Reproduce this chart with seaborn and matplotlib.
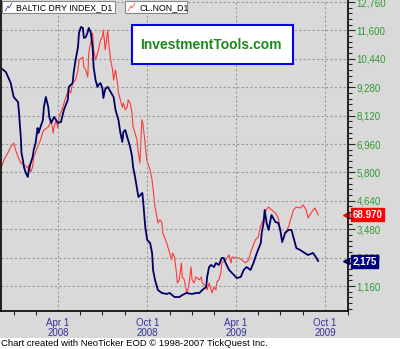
import pandas as pd
import numpy as np
import seaborn as sns
import matplotlib.pyplot as plt
import matplotlib.dates as mdates
import matplotlib.transforms as mtransforms
from matplotlib.ticker import FixedLocator, FuncFormatter, MultipleLocator
from matplotlib.patches import Rectangle
from matplotlib.lines import Line2D

# Baltic Dry Index
bdi_dates = [
    '2007-12-06', '2007-12-16', '2007-12-26', '2008-01-01', '2008-01-10', '2008-01-12', '2008-01-14',
    '2008-01-16', '2008-01-17', '2008-01-20', '2008-01-22', '2008-01-26', '2008-01-30', '2008-02-01',
    '2008-02-05', '2008-02-09', '2008-02-11', '2008-02-15', '2008-02-19', '2008-02-21', '2008-02-25',
    '2008-03-01', '2008-03-03', '2008-03-07', '2008-03-12', '2008-03-14', '2008-03-18', '2008-03-24',
    '2008-04-01', '2008-04-07', '2008-04-13', '2008-04-21', '2008-04-23', '2008-05-01', '2008-05-03',
    '2008-05-07', '2008-05-12', '2008-05-14', '2008-05-18', '2008-05-22', '2008-05-24', '2008-05-28',
    '2008-06-01', '2008-06-03', '2008-06-07', '2008-06-11', '2008-06-13', '2008-06-17', '2008-06-21',
    '2008-06-23', '2008-06-27', '2008-07-01', '2008-07-03', '2008-07-07', '2008-07-12', '2008-07-18',
    '2008-07-24', '2008-07-28', '2008-08-03', '2008-08-07', '2008-08-11', '2008-08-13', '2008-08-17',
    '2008-08-21', '2008-08-27', '2008-08-31', '2008-09-02', '2008-09-06', '2008-09-13', '2008-09-21',
    '2008-09-23', '2008-09-27', '2008-10-01', '2008-10-07', '2008-10-11', '2008-10-13', '2008-10-17',
    '2008-10-23', '2008-10-31', '2008-11-10', '2008-11-16', '2008-11-26', '2008-12-06', '2008-12-12',
    '2008-12-20', '2009-01-01', '2009-01-09', '2009-01-16', '2009-01-22', '2009-01-30', '2009-02-01',
    '2009-02-05', '2009-02-09', '2009-02-15', '2009-02-19', '2009-02-25', '2009-03-03', '2009-03-07',
    '2009-03-11', '2009-03-18', '2009-03-28', '2009-04-03', '2009-04-11', '2009-04-17', '2009-04-23',
    '2009-05-01', '2009-05-07', '2009-05-14', '2009-05-22', '2009-05-24', '2009-05-28', '2009-05-30',
    '2009-06-03', '2009-06-07', '2009-06-11', '2009-06-13', '2009-06-21', '2009-06-27', '2009-07-01',
    '2009-07-05', '2009-07-11', '2009-07-18', '2009-07-24', '2009-07-28', '2009-08-03', '2009-08-11',
    '2009-08-17', '2009-08-27', '2009-09-06', '2009-09-12', '2009-09-17',
]
bdi_values = [
    10065, 9900, 9450, 8880, 8675, 8225, 7655,
    7125, 6590, 6305, 6020, 5775, 5615, 5900,
    6185, 6430, 6715, 7000, 7615, 7410, 7655,
    7940, 8470, 8880, 8470, 8065, 7820, 8065,
    7820, 7860, 8350, 8760, 9290, 9450, 9860,
    10390, 10925, 11495, 11740, 11700, 11290, 11330,
    11535, 11700, 11535, 10925, 10105, 9575, 9290,
    9370, 9450, 9250, 8840, 9210, 9290, 9085,
    8880, 8350, 7940, 7410, 7045, 7450, 7530,
    7245, 6840, 6430, 6020, 5615, 4795, 4960,
    4550, 3570, 3040, 2915, 2510, 1815, 1405,
    995, 875, 835, 875, 710, 710, 790,
    875, 835, 875, 875, 995, 1120, 1530,
    1935, 2020, 1935, 2100, 2020, 2305, 2305,
    2100, 1815, 1610, 1485, 1530, 1815, 1935,
    1815, 2100, 2510, 2915, 3325, 3775, 4265,
    3735, 3450, 3855, 4060, 3775, 3735, 3450,
    2955, 3325, 3450, 3450, 3160, 2710, 2630,
    2550, 2425, 2510, 2345, 2175,
]

# crude oil CL.NON (own hidden scale)
oil_dates = [
    '2007-12-06', '2007-12-10', '2007-12-12', '2007-12-20', '2007-12-26', '2008-01-01', '2008-01-05',
    '2008-01-10', '2008-01-16', '2008-01-22', '2008-01-30', '2008-02-01', '2008-02-05', '2008-02-09',
    '2008-02-11', '2008-02-19', '2008-02-25', '2008-03-01', '2008-03-03', '2008-03-12', '2008-03-18',
    '2008-03-22', '2008-03-24', '2008-03-28', '2008-04-01', '2008-04-03', '2008-04-11', '2008-04-17',
    '2008-04-23', '2008-04-27', '2008-05-01', '2008-05-07', '2008-05-12', '2008-05-14', '2008-05-22',
    '2008-05-24', '2008-05-28', '2008-06-01', '2008-06-03', '2008-06-07', '2008-06-11', '2008-06-13',
    '2008-06-17', '2008-06-21', '2008-06-23', '2008-06-27', '2008-07-01', '2008-07-03', '2008-07-07',
    '2008-07-12', '2008-07-14', '2008-07-18', '2008-07-22', '2008-07-24', '2008-07-28', '2008-08-01',
    '2008-08-03', '2008-08-07', '2008-08-11', '2008-08-13', '2008-08-17', '2008-08-21', '2008-08-23',
    '2008-08-27', '2008-08-31', '2008-09-02', '2008-09-06', '2008-09-10', '2008-09-12', '2008-09-16',
    '2008-09-20', '2008-09-22', '2008-09-26', '2008-09-30', '2008-10-07', '2008-10-11', '2008-10-17',
    '2008-10-21', '2008-10-23', '2008-10-27', '2008-10-31', '2008-11-02', '2008-11-10', '2008-11-16',
    '2008-11-20', '2008-11-22', '2008-11-26', '2008-11-30', '2008-12-02', '2008-12-06', '2008-12-10',
    '2008-12-12', '2008-12-16', '2008-12-20', '2008-12-22', '2008-12-26', '2008-12-30', '2009-01-01',
    '2009-01-05', '2009-01-09', '2009-01-16', '2009-01-20', '2009-01-22', '2009-01-30', '2009-02-01',
    '2009-02-05', '2009-02-09', '2009-02-11', '2009-02-15', '2009-02-19', '2009-02-21', '2009-02-25',
    '2009-03-01', '2009-03-03', '2009-03-11', '2009-03-18', '2009-03-22', '2009-03-24', '2009-04-01',
    '2009-04-07', '2009-04-13', '2009-04-21', '2009-04-27', '2009-05-03', '2009-05-11', '2009-05-17',
    '2009-05-21', '2009-05-27', '2009-06-02', '2009-06-07', '2009-06-13', '2009-06-21', '2009-06-27',
    '2009-07-03', '2009-07-07', '2009-07-11', '2009-07-18', '2009-07-22', '2009-07-24', '2009-07-28',
    '2009-08-03', '2009-08-11', '2009-08-17', '2009-08-23', '2009-08-27', '2009-09-02', '2009-09-10',
    '2009-09-17',
]
oil_values = [
    88.7, 90.8, 92.1, 95.0, 97.5, 99.2, 96.3,
    93.3, 90.8, 90.0, 88.7, 90.0, 87.0, 89.1,
    93.3, 97.5, 100.5, 103.8, 104.7, 105.9, 108.9,
    103.4, 105.9, 108.9, 105.5, 110.1, 114.3, 118.5,
    121.5, 120.2, 124.4, 125.7, 129.9, 134.1, 135.3,
    131.1, 129.9, 126.9, 137.0, 141.2, 145.4, 138.3,
    134.1, 137.0, 138.3, 142.5, 143.7, 146.7, 138.3,
    146.7, 141.2, 134.1, 129.9, 125.7, 129.9, 124.4,
    120.2, 117.3, 114.3, 116.0, 113.1, 114.3, 117.3,
    116.0, 111.8, 105.9, 103.4, 100.5, 96.3, 90.8,
    108.9, 107.6, 100.5, 92.1, 87.9, 83.7, 72.3,
    68.1, 65.6, 66.9, 66.0, 61.4, 57.2, 53.0,
    50.1, 53.0, 51.3, 44.6, 40.4, 41.7, 48.8,
    42.9, 41.7, 37.5, 36.2, 40.4, 47.1, 41.7,
    40.4, 42.9, 41.7, 42.9, 40.4, 38.7, 37.5,
    40.4, 37.5, 36.2, 38.7, 37.5, 40.8, 41.7,
    44.6, 48.8, 50.1, 52.2, 48.8, 51.3, 50.9,
    50.9, 50.1, 48.8, 50.1, 54.3, 58.5, 59.7,
    63.9, 66.9, 71.1, 72.3, 71.1, 69.8, 67.7,
    59.7, 58.5, 61.8, 63.9, 66.9, 68.1, 71.1,
    72.3, 71.9, 73.2, 71.1, 67.7, 69.8, 71.9,
    68.97,
]

bdi_ticks = [1160, 2320, 3480, 4640, 5800, 6960, 8120, 9280, 10440, 11600, 12760]
x_major = ['2008-04-01', '2008-10-01', '2009-04-01', '2009-10-01']
x_labels = ['Apr 1\n2008', 'Oct 1\n2008', 'Apr 1\n2009', 'Oct 1\n2009']
x_minor = ['2008-01-01', '2008-02-15', '2008-05-16', '2008-07-01', '2008-08-16', '2008-11-16',
           '2009-01-01', '2009-02-15', '2009-05-16', '2009-07-01', '2009-08-16', '2009-11-16']

BG = '#d9d9d9'
NAVY = '#000066'
RED = '#ff3838'
GREEN = '#339933'
W, H = 400, 349

sns.set_style('white')
plt.rcParams['font.family'] = ['Liberation Sans', 'DejaVu Sans']

bdi = pd.DataFrame({'date': pd.to_datetime(bdi_dates), 'value': bdi_values})
oil = pd.DataFrame({'date': pd.to_datetime(oil_dates), 'value': oil_values})

fig = plt.figure(figsize=(W / 100, H / 100), dpi=100, facecolor=BG)
ax = fig.add_axes([1 / W, 38 / H, 347 / W, 311 / H])
ax2 = ax.twinx()
ax.set_zorder(ax2.get_zorder() + 1)
ax.patch.set_visible(False)

sns.lineplot(data=oil, x='date', y='value', ax=ax2, color=RED, lw=0.8)
sns.lineplot(data=bdi, x='date', y='value', ax=ax, color=NAVY, lw=1.3)

ax.set_xlim(pd.Timestamp('2007-12-06'), pd.Timestamp('2009-11-17'))
ax.set_ylim(139, 12842)
ax2.set_ylim(28.6, 159.3)
for a in (ax, ax2):
    a.set_xlabel('')
    a.set_ylabel('')

ax2.set_yticks([])
for s in ax2.spines.values():
    s.set_visible(False)

ax.yaxis.tick_right()
ax.set_yticks(bdi_ticks)
ax.yaxis.set_major_formatter(FuncFormatter(lambda v, p: f'{int(v):,}'))
ax.yaxis.set_minor_locator(MultipleLocator(232))
ax.set_xticks(pd.to_datetime(x_major))
ax.set_xticklabels(x_labels)
ax.xaxis.set_minor_locator(FixedLocator(mdates.date2num(pd.to_datetime(x_minor))))

ax.tick_params(axis='y', which='major', direction='out', length=5, width=0.8, labelsize=7,
               labelcolor=GREEN, pad=1, right=True, left=False)
ax.tick_params(axis='y', which='minor', direction='out', length=3, width=0.8, right=True, left=False)
ax.tick_params(axis='x', which='major', direction='out', length=5, width=0.8, labelsize=7,
               labelcolor='#333399', pad=0)
ax.tick_params(axis='x', which='minor', direction='out', length=3, width=0.8, bottom=True)
for lbl in ax.get_xticklabels():
    lbl.set_linespacing(1.05)

ax.grid(True, which='major', color='#999999', ls=(0, (2, 2)), lw=0.8)
ax.spines['top'].set_visible(False)
for side in ('left', 'right', 'bottom'):
    ax.spines[side].set_color('black')
    ax.spines[side].set_linewidth(1.2)

# last value tags on the right edge
blend = mtransforms.blended_transform_factory(ax.transAxes, ax.transData)
ax.plot([0.995], [bdi_values[-1]], marker='<', ms=4, color=NAVY, transform=blend, clip_on=False)
ax.annotate(f'{bdi_values[-1]:,}', xy=(1, bdi_values[-1]), xycoords=('axes fraction', 'data'),
            xytext=(3, 0), textcoords='offset points', va='center', ha='left', fontsize=7,
            fontweight='bold', color='white', annotation_clip=False, zorder=10,
            bbox=dict(boxstyle='square,pad=0.15', facecolor='#000080', edgecolor='#000080'))
blend2 = mtransforms.blended_transform_factory(ax2.transAxes, ax2.transData)
ax2.plot([0.995], [oil_values[-1]], marker='<', ms=4, color='red', transform=blend2, clip_on=False)
ax2.annotate(f'{oil_values[-1]:.3f}', xy=(1, oil_values[-1]), xycoords=('axes fraction', 'data'),
             xytext=(3, 0), textcoords='offset points', va='center', ha='left', fontsize=7,
             fontweight='bold', color='white', annotation_clip=False, zorder=10,
             bbox=dict(boxstyle='square,pad=0.15', facecolor='red', edgecolor='red'))


def fx(x):
    return x / W


def fy(y):
    return 1 - y / H


# white footer strip
fig.patches.append(Rectangle((0, 0), 1, 11 / H, transform=fig.transFigure, facecolor='white',
                             edgecolor='none', zorder=0))
fig.text(fx(1), fy(343.5), 'Chart created with NeoTicker EOD \u00a9 1998-2007 TickQuest Inc.',
         fontsize=6.8, va='center', ha='left', color='black')

# series name boxes
for x0, x1, name, col in [(2, 115, 'BALTIC DRY INDEX_D1', NAVY), (125, 187, 'CL.NON_D1', 'red')]:
    fig.patches.append(Rectangle((fx(x0), fy(13)), fx(x1 - x0), 12 / H, transform=fig.transFigure,
                                 facecolor='white', edgecolor='#888888', lw=0.8, zorder=5))
    fig.add_artist(Line2D([fx(x0 + 3), fx(x0 + 6), fx(x0 + 7), fx(x0 + 10)],
                          [fy(11), fy(6), fy(8), fy(3)], color=col, lw=0.6, alpha=0.7, zorder=6))
    fig.text(fx(x0 + 14), fy(7.5), name, fontsize=6.3, va='center', ha='left', color='black', zorder=6)

# watermark box
fig.patches.append(Rectangle((fx(132), fy(64)), fx(161), 39 / H, transform=fig.transFigure,
                             facecolor='white', edgecolor='#0000ee', lw=1.5, zorder=5))
fig.text(fx(211), fy(45), 'InvestmentTools.com', fontsize=10, fontweight='bold', color='#1a8a1a',
         ha='center', va='center', zorder=6)

fig.savefig('out.png', dpi=100, facecolor=BG)
